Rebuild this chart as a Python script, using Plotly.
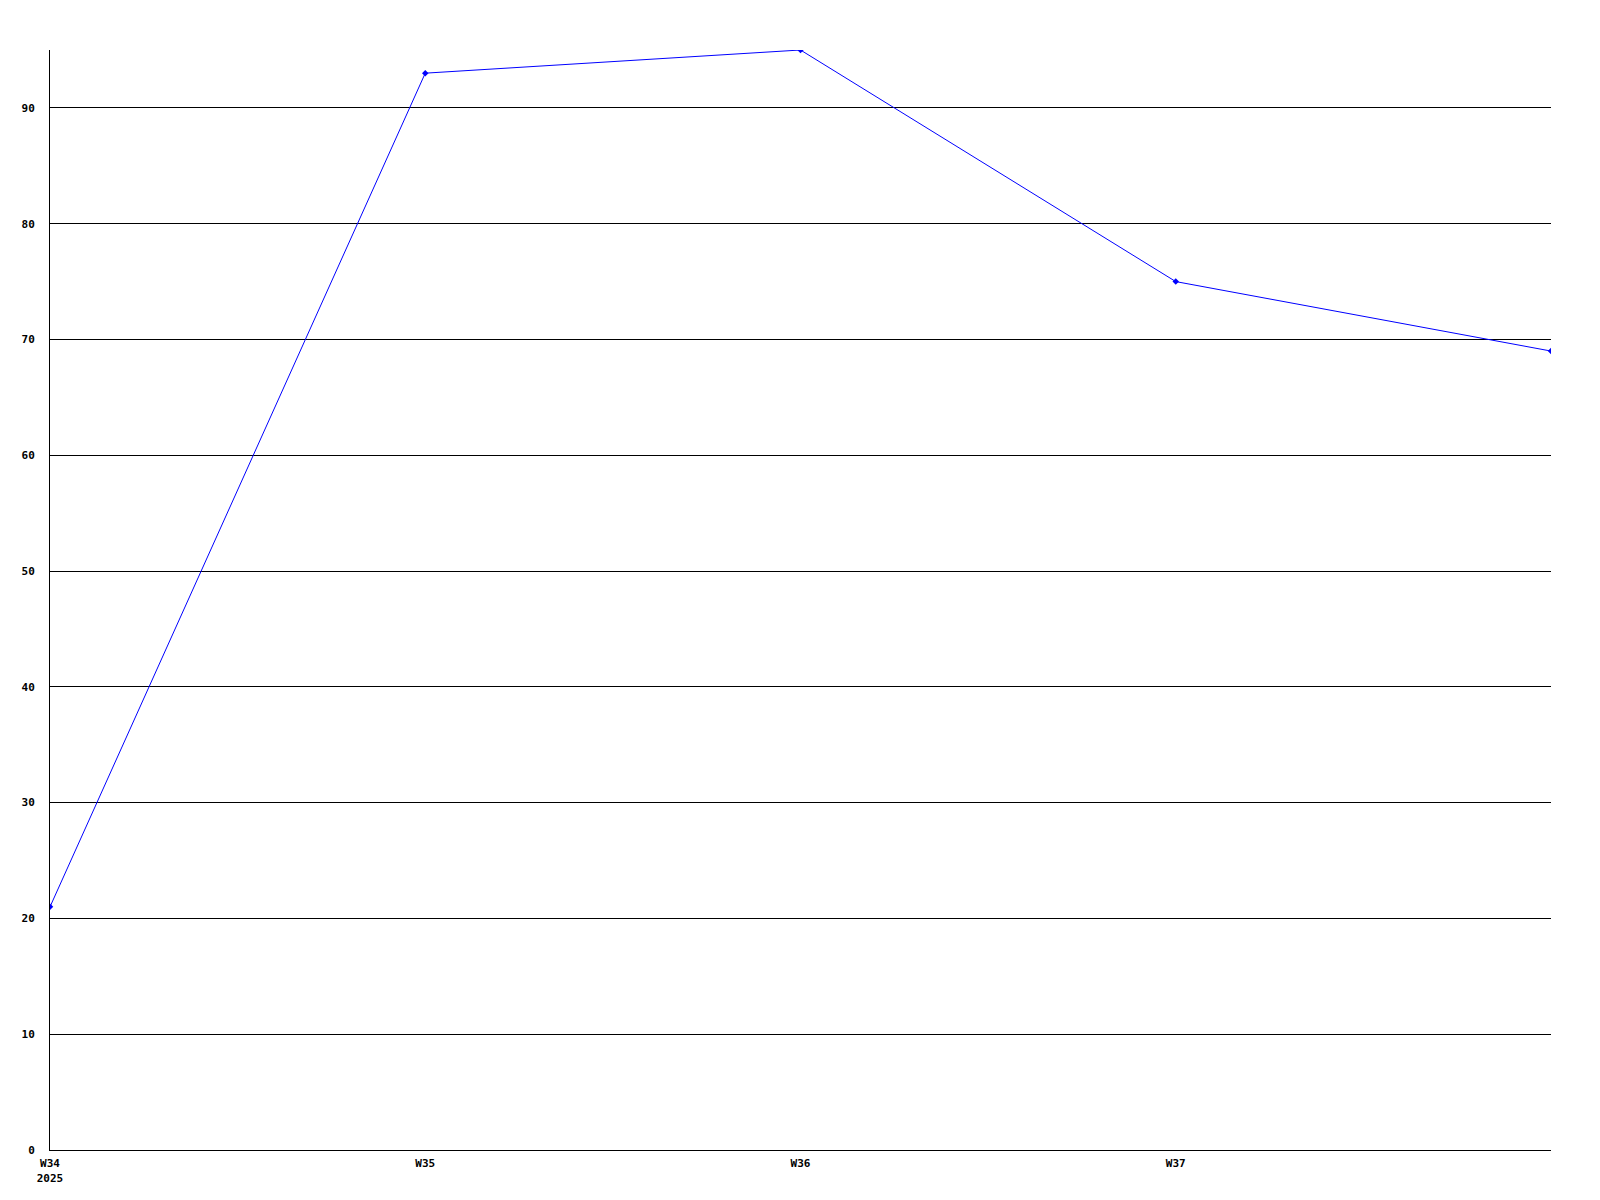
import plotly.graph_objects as go

weeks = ["W34", "W35", "W36", "W37", "W38"]
values = [21, 93, 95, 75, 69]
tick_labels = ["W34<br>2025", "W35", "W36", "W37"]
y_ticks = [0, 10, 20, 30, 40, 50, 60, 70, 80, 90]

xpos = list(range(len(weeks)))

fig = go.Figure()
fig.add_trace(go.Scatter(
    x=xpos, y=values, mode="lines+markers",
    line=dict(color="#0000ff", width=1),
    marker=dict(color="#0000ff", size=5, symbol="diamond"),
    hoverinfo="skip", showlegend=False,
))

font = dict(family="DejaVu Sans Mono", size=11, color="black")
tfont = dict(family="DejaVu Sans Mono", size=11, color="black", weight="bold")

fig.update_layout(
    width=1600, height=1200,
    margin=dict(l=42, r=57, t=42, b=58),
    paper_bgcolor="white", plot_bgcolor="white",
    font=font,
    xaxis=dict(
        range=[0, 4], tickvals=xpos[:4], ticktext=tick_labels,
        showgrid=False, zeroline=False, showline=True, linecolor="black", linewidth=1,
        ticks="", ticklabelstandoff=3, tickfont=tfont,
    ),
    yaxis=dict(
        range=[0, 95], tickvals=y_ticks, ticktext=[str(v) for v in y_ticks],
        showgrid=True, gridcolor="black", gridwidth=1, zeroline=False,
        showline=True, linecolor="black", linewidth=1,
        ticks="", ticklabelstandoff=12, tickfont=tfont,
    ),
)

fig.write_html("out.html")
